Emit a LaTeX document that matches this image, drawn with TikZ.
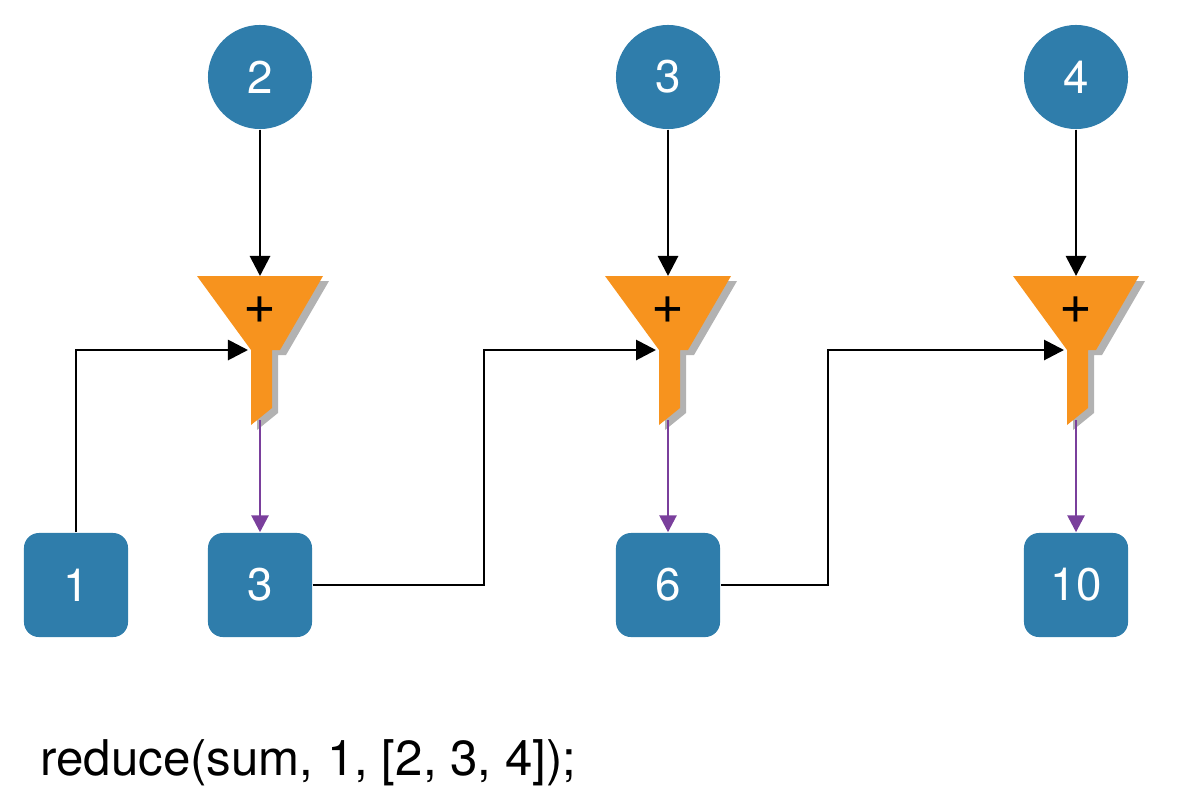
\documentclass[tikz,border=0pt]{standalone}
\usepackage{fontspec}
\setmainfont{TeX Gyre Heros}
\usetikzlibrary{arrows.meta}
\definecolor{nodeblue}{HTML}{2F7DAB}
\definecolor{funnelorange}{HTML}{F7931E}
\definecolor{outpurple}{HTML}{7A3F9C}
\tikzset{
  val/.style={fill=nodeblue,text=white,font=\fontsize{13}{15}\selectfont},
  elem/.style={val,circle,minimum size=1.04cm,inner sep=0pt},
  acc/.style={val,rounded corners=0.15cm,minimum size=1.04cm,inner sep=0pt},
  flow/.style={-{Triangle[length=0.2cm,width=0.2cm]},thick,black},
  result/.style={-{Triangle[length=0.17cm,width=0.17cm]},thick,outpurple},
}
\newcommand{\funnel}[2]{%
  % funnel centred at x=#2
  \fill[black,opacity=0.3,shift={(6,5)}] (#2-63,276) -- (#2+63,276) -- (#2+20,350) -- (#2+12,350) -- (#2+12,408) -- (#2-9,425) -- (#2-9,350) -- cycle;
  \fill[funnelorange] (#2-63,276) -- (#2+63,276) -- (#2+20,350) -- (#2+12,350) -- (#2+12,408) -- (#2-9,425) -- (#2-9,350) -- cycle;
  \node[font=\fontsize{16}{18}\selectfont] (#1) at (#2,310) {+};
  \coordinate (#1top) at (#2,276);
  \coordinate (#1in) at (#2-12,350);
  \coordinate (#1out) at (#2,420);
}
\begin{document}
\begin{tikzpicture}[x=0.01cm,y=-0.01cm]
\useasboundingbox (0,0) rectangle (1180,806);

% elements of the list
\node[elem] (e2) at (260,77) {2};
\node[elem] (e3) at (668,77) {3};
\node[elem] (e4) at (1076,77) {4};

% funnels
\funnel{f1}{260}
\funnel{f2}{668}
\funnel{f3}{1076}

% accumulators
\node[acc] (a1) at (76,585) {1};
\node[acc] (a3) at (260,585) {3};
\node[acc] (a6) at (668,585) {6};
\node[acc] (a10) at (1076,585) {10};

% connectors
\draw[flow] (e2) -- (f1top);
\draw[flow] (e3) -- (f2top);
\draw[flow] (e4) -- (f3top);

\draw[flow] (a1.north) |- (f1in);
\draw[flow] (a3.east) -| (484,350) -- (f2in);
\draw[flow] (a6.east) -| (828,350) -- (f3in);

\draw[result] (f1out) -- (a3.north);
\draw[result] (f2out) -- (a6.north);
\draw[result] (f3out) -- (a10.north);

% call
\node[anchor=base west,font=\fontsize{14}{16}\selectfont] (call) at (28,775) {reduce(sum, 1, [2, 3, 4]);};
\end{tikzpicture}
\end{document}
